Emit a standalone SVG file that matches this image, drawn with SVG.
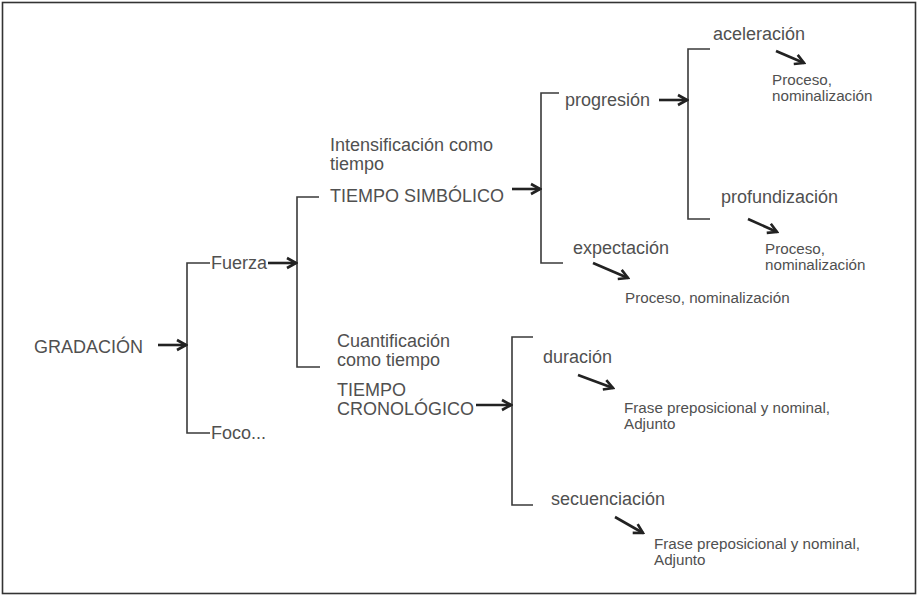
<svg xmlns="http://www.w3.org/2000/svg" width="918" height="596" viewBox="0 0 918 596">
<defs>
<marker id="ah" markerUnits="userSpaceOnUse" markerWidth="14" markerHeight="14" viewBox="-12 -7 14 14" refX="0" refY="0" orient="auto">
<path d="M-9,-5 L0,0 L-9,5" fill="none" stroke="#222" stroke-width="2.6" stroke-linejoin="miter"/>
</marker>
<style>
text{font-family:"Liberation Sans",Arial,Helvetica,sans-serif;fill:#505050;font-size:18px}
.s{font-size:15.2px}
.br{fill:none;stroke:#3a3a3a;stroke-width:1.6}
.ar{fill:none;stroke:#222;stroke-width:2.6;marker-end:url(#ah)}
</style>
</defs>
<rect x="2.5" y="2.5" width="913" height="591" fill="#fff" stroke="#333" stroke-width="1.6"/>

<g id="connectors">
<path class="br" d="M210,263 H187 V433 H210"/>
<path class="br" d="M319,197 H297 V367 H320"/>
<path class="br" d="M559,93 H541 V263 H563"/>
<path class="br" d="M710,49 H688 V219 H710"/>
<path class="br" d="M533,337 H512 V505 H533"/>
<line class="ar" x1="158" y1="345" x2="186" y2="345"/>
<line class="ar" x1="268" y1="263" x2="296" y2="263"/>
<line class="ar" x1="512" y1="189" x2="540" y2="189"/>
<line class="ar" x1="659" y1="100" x2="687" y2="100"/>
<line class="ar" x1="476" y1="405" x2="511" y2="405"/>
<line class="ar" x1="776" y1="51" x2="804" y2="63"/>
<line class="ar" x1="748" y1="219" x2="777" y2="232"/>
<line class="ar" x1="593" y1="263" x2="628" y2="278"/>
<line class="ar" x1="578" y1="375" x2="613" y2="388"/>
<line class="ar" x1="615" y1="517" x2="643" y2="533"/>
</g>

<g id="gradacion"><text x="34" y="353">GRADACIÓN</text></g>
<g id="fuerza"><text x="211" y="269">Fuerza</text></g>
<g id="foco"><text x="211" y="439">Foco...</text></g>
<g id="tiempo-simbolico">
<text x="330" y="151">Intensificación como</text>
<text x="330" y="170">tiempo</text>
<text x="330" y="202">TIEMPO SIMBÓLICO</text>
</g>
<g id="tiempo-cronologico">
<text x="337" y="347">Cuantificación</text>
<text x="337" y="366">como tiempo</text>
<text x="337" y="396">TIEMPO</text>
<text x="337" y="415">CRONOLÓGICO</text>
</g>
<g id="progresion"><text x="565" y="106">progresión</text></g>
<g id="expectacion"><text x="573" y="254">expectación</text></g>
<g id="aceleracion"><text x="713" y="40">aceleración</text></g>
<g id="profundizacion"><text x="721" y="203">profundización</text></g>
<g id="duracion"><text x="543" y="363">duración</text></g>
<g id="secuenciacion"><text x="551" y="505">secuenciación</text></g>
<g id="aceleracion-realizacion">
<text class="s" x="772" y="85">Proceso,</text>
<text class="s" x="772" y="101">nominalización</text>
</g>
<g id="profundizacion-realizacion">
<text class="s" x="765" y="254">Proceso,</text>
<text class="s" x="765" y="270">nominalización</text>
</g>
<g id="expectacion-realizacion"><text class="s" x="625" y="303">Proceso, nominalización</text></g>
<g id="duracion-realizacion">
<text class="s" x="624" y="413">Frase preposicional y nominal,</text>
<text class="s" x="624" y="429">Adjunto</text>
</g>
<g id="secuenciacion-realizacion">
<text class="s" x="654" y="549">Frase preposicional y nominal,</text>
<text class="s" x="654" y="565">Adjunto</text>
</g>
</svg>
